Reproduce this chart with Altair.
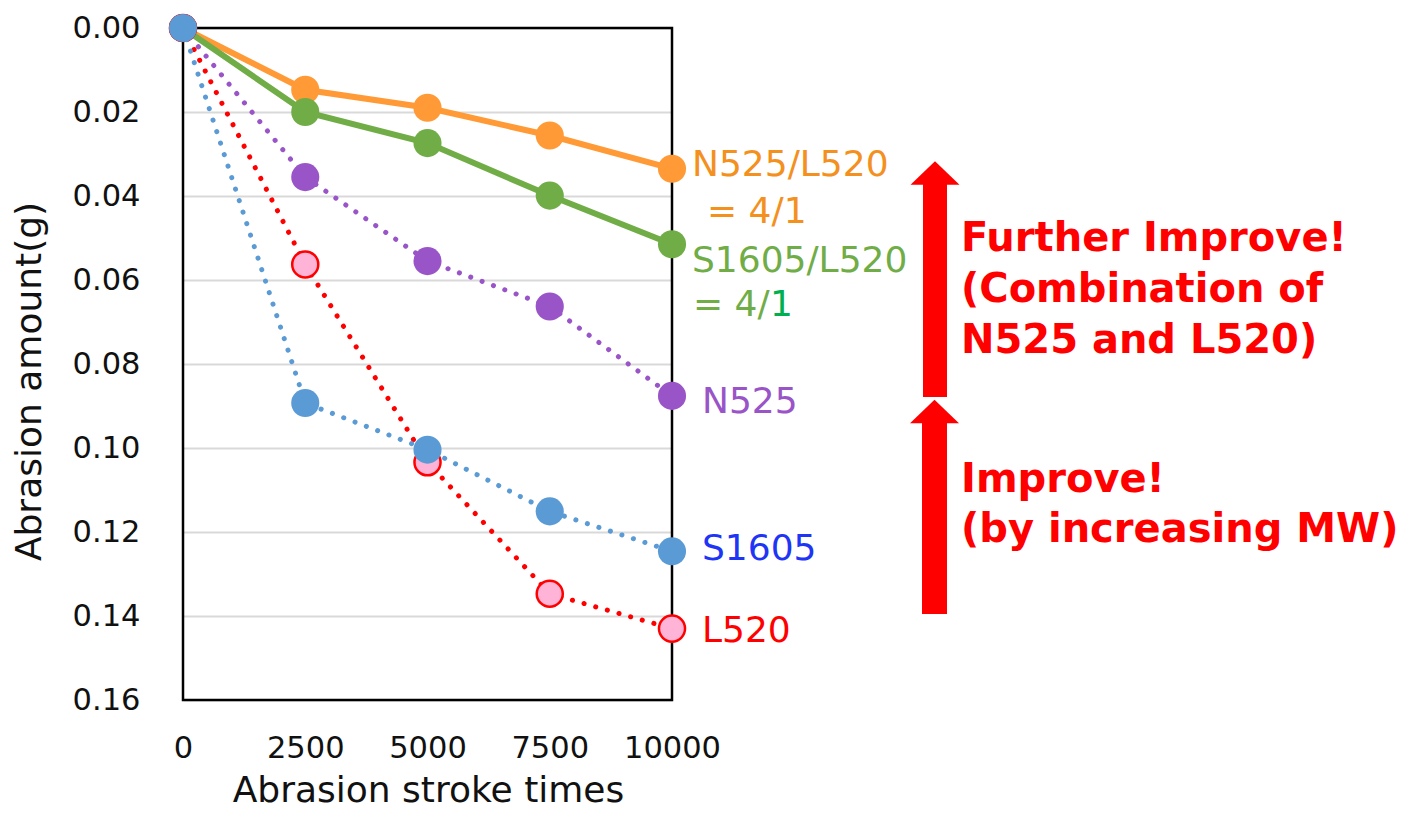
import altair as alt
import pandas as pd

# ---- data ----
strokes = [0, 2500, 5000, 7500, 10000]
n525_l520 = [0.0, 0.0147, 0.0190, 0.0256, 0.0335]
s1605_l520 = [0.0, 0.0200, 0.0274, 0.0399, 0.0515]
n525 = [0.0, 0.0355, 0.0555, 0.0663, 0.0876]
l520 = [0.0, 0.0563, 0.1034, 0.1347, 0.1430]
s1605 = [0.0, 0.0893, 0.1004, 0.1151, 0.1246]

y_ticks = [0.0, 0.02, 0.04, 0.06, 0.08, 0.10, 0.12, 0.14, 0.16]
x_ticks = [0, 2500, 5000, 7500, 10000]

FONT = "DejaVu Sans"
W, H = 489, 672

x_scale = alt.Scale(domain=[0, 10000], nice=False, zero=False)
y_scale = alt.Scale(domain=[0, 0.16], reverse=True, nice=False)

x_axis = alt.Axis(values=x_ticks, format="d", labelOverlap=False, labelFlush=False,
                  title="Abrasion stroke times", grid=False, domain=False,
                  ticks=False, labelFont=FONT, labelFontSize=30.5, labelColor="#111111",
                  labelPadding=33, labelBaseline="top", titleFont=FONT, titleFontSize=36,
                  titleFontWeight="normal", titleColor="#111111", titleX=245, titleY=101,
                  titleAlign="center", titleBaseline="alphabetic")
y_axis = alt.Axis(values=y_ticks, format=".2f", labelOverlap=False, labelFlush=False,
                  title="Abrasion amount(g)", grid=True,
                  gridColor="#D9D9D9", gridWidth=2, domain=False, ticks=False,
                  labelFont=FONT, labelFontSize=30.5, labelColor="#111111", labelPadding=43,
                  titleFont=FONT, titleFontSize=36, titleFontWeight="normal",
                  titleColor="#111111", titleAngle=270, titleX=-143, titleY=353,
                  titleAlign="center", titleBaseline="alphabetic")

enc_x = alt.X("x:Q", scale=x_scale, axis=x_axis)
enc_y = alt.Y("y:Q", scale=y_scale, axis=y_axis)

series = [
    # name, values, color, dotted, fill, stroke
    ("N525/L520", n525_l520, "#FF9A36", False, "#FF9A36", None),
    ("S1605/L520", s1605_l520, "#70AD47", False, "#70AD47", None),
    ("N525", n525, "#9955C8", True, "#9955C8", None),
    ("L520", l520, "#FF0000", True, "#FFB3D6", "#FF0000"),
    ("S1605", s1605, "#5B9BD5", True, "#5B9BD5", None),
]

layers = []

# plot-area frame (drawn above the grid)
frame = pd.DataFrame({"x": [0], "x2": [10000], "y": [0], "y2": [0.16]})
frame_layer = (
    alt.Chart(frame).mark_rect(fill=None, fillOpacity=0, stroke="#000000", strokeWidth=2.5)
    .encode(x=enc_x, x2="x2:Q", y=enc_y, y2="y2:Q")
)
layers.append(frame_layer)

for name, vals, color, dotted, fill, stroke in series:
    df = pd.DataFrame({"x": strokes, "y": vals})
    base = alt.Chart(df)
    if dotted:
        line = base.mark_line(color=color, strokeWidth=5, strokeDash=[0.1, 12],
                              strokeCap="round")
    else:
        line = base.mark_line(color=color, strokeWidth=6)
    layers.append(line.encode(x=enc_x, y=enc_y))
    if stroke:
        pts = base.mark_point(filled=True, fill=fill, stroke=stroke, strokeWidth=2.5,
                              size=680, opacity=1)
    else:
        pts = base.mark_point(filled=True, color=fill, size=790, opacity=1)
    layers.append(pts.encode(x=enc_x, y=enc_y))

# ---- series labels next to the last point ----
label_specs = [
    ("N525/L520", n525_l520[-1], "#F4901E", 20, 7),
    ("= 4/1", n525_l520[-1], "#F4901E", 35, 54),
    ("S1605/L520", s1605_l520[-1], "#70AD47", 20, 28),
    ("= 4/", s1605_l520[-1], "#70AD47", 21, 72),
    ("1", s1605_l520[-1], "#00B050", 98, 72),
    ("N525", n525[-1], "#9955C8", 30, 17),
    ("S1605", s1605[-1], "#1F35F5", 30, 9),
    ("L520", l520[-1], "#FF0000", 30, 13),
]
for text, yv, color, dx, dy in label_specs:
    d = pd.DataFrame({"x": [10000], "y": [yv], "t": [text]})
    layers.append(
        alt.Chart(d).mark_text(align="left", baseline="alphabetic", font=FONT, fontSize=36,
                               color=color, dx=dx, dy=dy, clip=False)
        .encode(x=enc_x, y=enc_y, text="t:N"))

# ---- annotation arrows and texts (pixel layout, plot-area coordinates) ----
shafts = pd.DataFrame({"x1": [740, 739], "x2": [764, 764], "y1": [155, 395], "y2": [369, 586]})
layers.append(
    alt.Chart(shafts).mark_rect(color="#FF0000")
    .encode(x=alt.X("x1:Q", scale=None), x2="x2:Q", y=alt.Y("y1:Q", scale=None), y2="y2:Q"))

heads = pd.DataFrame({"x": [752, 751.5], "y": [145, 383.5]})
layers.append(
    alt.Chart(heads).mark_point(filled=True, color="#FF0000", opacity=1,
                                shape="M-1,0.48 L0,-0.48 L1,0.48 Z", size=2401)
    .encode(x=alt.X("x:Q", scale=None), y=alt.Y("y:Q", scale=None)))

note_lines = ["Further Improve!", "(Combination of", "N525 and L520)",
              "Improve!", "(by increasing MW)"]
notes = pd.DataFrame({"t": note_lines, "x": [778] * 5, "y": [223, 274, 325, 464, 514]})
layers.append(
    alt.Chart(notes).mark_text(align="left", baseline="alphabetic", font=FONT, fontSize=40,
                               fontWeight="bold", color="#FF0000")
    .encode(x=alt.X("x:Q", scale=None), y=alt.Y("y:Q", scale=None), text="t:N"))

chart = (
    alt.layer(*layers)
    .properties(width=W, height=H,
                autosize=alt.AutoSizeParams(type="none"),
                padding={"left": 175, "top": 20, "right": 736, "bottom": 111},
                background="white")
    .configure_view(stroke=None)
)

chart.save("out.html", embed_options={"renderer": "svg", "actions": False})
